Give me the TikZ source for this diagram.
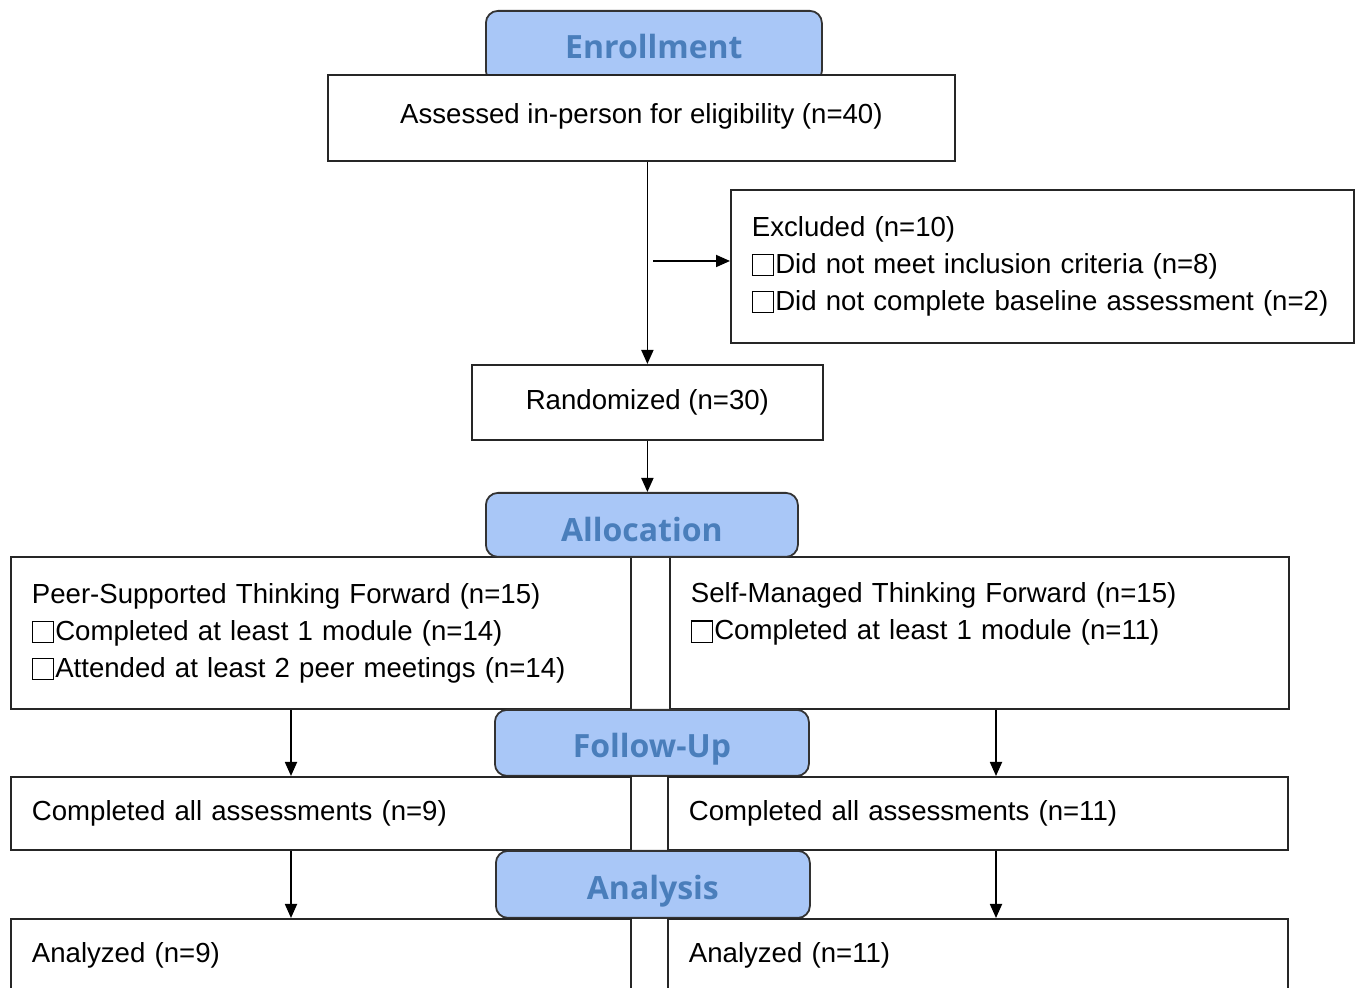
\documentclass[tikz,border=0pt]{standalone}
\usepackage{fontspec}
\setmainfont{Liberation Sans}
\newfontfamily\phasefont{Open Sans}
\usetikzlibrary{positioning,arrows.meta}
\definecolor{phasefill}{RGB}{169,199,247}
\definecolor{phasetext}{RGB}{74,126,187}
\newcommand\chkbox{\raisebox{-0.8pt}{\setlength\fboxsep{0pt}\setlength\fboxrule{0.55pt}%
  \fbox{\rule{0pt}{10pt}\hspace{10pt}}}\hspace{0.6pt}}
\tikzset{
  flowbox/.style={draw=black!85,line width=0.9pt,fill=white,inner sep=0pt,
    font=\fontsize{13.8}{18.5}\selectfont},
  listbox/.style={flowbox,align=left,inner xsep=10.5pt},
  phase/.style={draw=black!80,line width=0.9pt,fill=phasefill,rounded corners=6pt,
    text=phasetext,font=\phasefont\bfseries\fontsize{16}{18}\selectfont,
    text height=16.4pt,text depth=0pt,inner sep=0pt},
}
\begin{document}
\begin{tikzpicture}[x=0.5pt,y=-0.5pt,>={Triangle[length=7pt,width=6pt]},line width=0.9pt]
\useasboundingbox (0,0) rectangle (1356,988);
% enrollment
\node[phase,anchor=north west,minimum width=168pt,minimum height=36pt,text height=12pt] (enroll) at (485,10) {Enrollment};
\node[flowbox,anchor=north west,minimum width=313.5pt,minimum height=43pt,text depth=4pt] (assessed) at (327,74) {Assessed in-person for eligibility (n=40)};
\node[listbox,anchor=north west,text width=290.5pt,minimum height=76.5pt] (excluded) at (730,189)
  {Excluded (n=10)\\\chkbox Did not meet inclusion criteria (n=8)\\\chkbox Did not complete baseline assessment (n=2)};
\node[flowbox,anchor=north west,minimum width=175.5pt,minimum height=37.5pt] (randomized) at (471,364) {Randomized (n=30)};
\coordinate (split) at (653,261);
\draw[->] (randomized.north |- assessed.south) -- (randomized.north);
\draw[->] (split) -- (split -| excluded.west);
% allocation
\node[listbox,anchor=north west,text width=289pt,minimum height=76pt] (peer) at (10,556)
  {Peer-Supported Thinking Forward (n=15)\\\chkbox Completed at least 1 module (n=14)\\\chkbox Attended at least 2 peer meetings (n=14)};
\node[listbox,anchor=north west,text width=288.5pt,minimum height=76pt] (self) at (669,556)
  {Self-Managed Thinking Forward (n=15)\\\chkbox Completed at least 1 module (n=11)\\\rule[-2.9pt]{0pt}{2.9pt}};
\node[phase,anchor=north west,minimum width=156pt,minimum height=32pt] (alloc) at (485,492) {Allocation};
\draw[->] (randomized.south) -- (randomized.south |- alloc.north);
% follow-up
\node[phase,anchor=north west,minimum width=157pt,minimum height=33pt,text height=15pt] (follow) at (494,709) {Follow-Up};
\node[listbox,anchor=north west,text width=289pt,minimum height=36.5pt] (compL) at (10,776) {Completed all assessments (n=9)};
\node[listbox,anchor=north west,text width=289pt,minimum height=36.5pt] (compR) at (667,776) {Completed all assessments (n=11)};
\coordinate (colL) at (291,0);
\coordinate (colR) at (996,0);
\draw[->] (colL |- peer.south) -- (colL |- compL.north);
\draw[->] (colR |- self.south) -- (colR |- compR.north);
% analysis
\node[phase,anchor=north west,minimum width=157pt,minimum height=33.5pt,text height=15.4pt] (analysis) at (495,850) {Analysis};
\node[listbox,anchor=north west,text width=289pt,minimum height=36.5pt] (anaL) at (10,918) {Analyzed (n=9)};
\node[listbox,anchor=north west,text width=289pt,minimum height=36.5pt] (anaR) at (667,918) {Analyzed (n=11)};
\draw[->] (colL |- compL.south) -- (colL |- anaL.north);
\draw[->] (colR |- compR.south) -- (colR |- anaR.north);
\end{tikzpicture}
\end{document}
